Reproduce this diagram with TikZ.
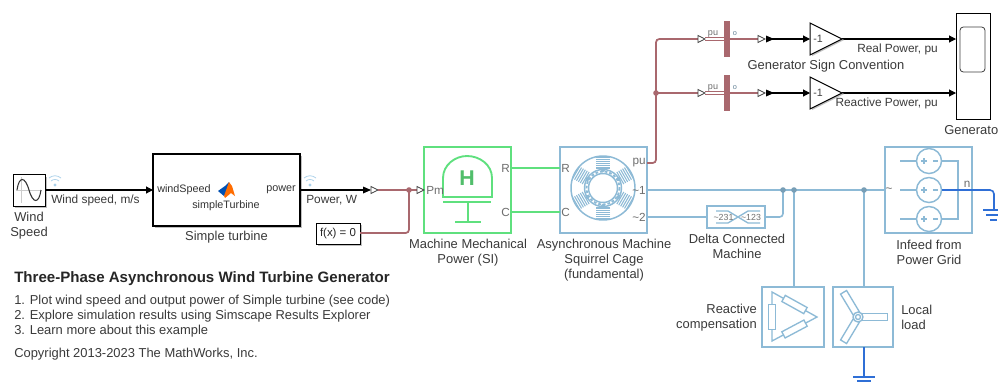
\documentclass[tikz,border=0pt]{standalone}
\usepackage{fontspec}
\setmainfont{Liberation Sans}
\usetikzlibrary{arrows.meta}
\definecolor{pblue}{HTML}{8DBAD6}
\definecolor{pgreen}{HTML}{5FE07E}
\definecolor{pred}{HTML}{A9686E}
\definecolor{dblue}{HTML}{2F6FD6}
\definecolor{txt}{HTML}{3A3A3A}
\definecolor{port}{HTML}{6E6E6E}
\definecolor{wifi}{HTML}{A9D0EA}
\tikzset{
 x=0.75pt,y=-0.75pt,
 bx/.style 2 args={minimum width=#1*0.75pt,minimum height=#2*0.75pt,inner sep=0pt,outer sep=0pt},
 lab/.style={font=\fontsize{9.7}{11.25}\selectfont,text=txt,align=center,inner sep=0pt},
 labl/.style={lab,anchor=west,align=left},
 labr/.style={lab,anchor=east,align=right},
 slab/.style={lab,font=\fontsize{8.9}{11}\selectfont},
 plab/.style={font=\fontsize{8.8}{10}\selectfont,text=port,inner sep=0pt},
 tlab/.style={plab,text=black!80,font=\fontsize{8.1}{9}\selectfont},
 blk/.style={draw=black,line width=0.75pt,fill=white},
 bluebox/.style={draw=pblue,line width=1.5pt,fill=white},
 greenbox/.style={draw=pgreen,line width=1.5pt,fill=white},
 sig/.style={draw=black,line width=0.8pt,-{Triangle[length=5.2pt,width=5.2pt]}},
 sigp/.style={draw=black,line width=0.8pt},
 pline/.style={draw=pred,line width=1.3pt,rounded corners=2.5pt},
 bline/.style={draw=pblue,line width=1.2pt,rounded corners=2.5pt},
 gline/.style={draw=pgreen,line width=1.4pt},
 eline/.style={draw=dblue,line width=1.2pt,rounded corners=3pt},
 jd/.style={circle,fill=#1,minimum size=4.2pt,inner sep=0pt,outer sep=0pt},
 hollow/.style={draw=black!75,line width=0.6pt,fill=white},
 icon/.style={draw=pblue,line width=1pt},
 res/.style={draw=pblue,fill=white,line width=1pt,bx={25}{7}},
}
\newcommand{\hollowtri}[2]{\path[hollow] (#1,#2-3.5) -- (#1+7,#2) -- (#1,#2+3.5) -- cycle;}
\newcommand{\wifisym}[2]{%
 \fill[wifi] (#1,#2) circle[radius=1.6];
 \draw[wifi,line width=0.55pt] (#1-4,#2-4) .. controls (#1-2,#2-6) and (#1+2,#2-6) .. (#1+4,#2-4);
 \draw[wifi,line width=0.55pt] (#1-6,#2-7) .. controls (#1-2,#2-10) and (#1+2,#2-10) .. (#1+6,#2-7);}
\begin{document}
\begin{tikzpicture}
\useasboundingbox[fill=white] (0,0) rectangle (998,383);
% shadows
\fill[black!25] (15,177) rectangle (47,208);
\fill[black!25] (155,156) rectangle (302,228);
\fill[black!25] (318,225) rectangle (362,246);
% blocks
\node[blk,bx={32}{32}] (wind) at (29,190) {};
\node[blk,line width=1.6pt,bx={147}{72}] (turb) at (226.5,190) {};
\node[blk,bx={44}{21}] (fx) at (338,233.5) {};
\node[greenbox,bx={87}{86}] (mech) at (467.5,190) {};
\node[bluebox,bx={87}{86}] (asyn) at (603.5,190) {};
\node[bluebox,line width=1.3pt,bx={58}{22}] (delta) at (736,217) {};
\node[bluebox,bx={87}{86}] (grid) at (928.5,190) {};
\node[bluebox,bx={62}{60}] (comp) at (793,317) {};
\node[bluebox,bx={60}{60}] (load) at (863,317) {};
\node[blk,bx={34}{106}] (scope) at (973,66) {};
\node[fill=pred,bx={6}{36}] (bus1) at (727,39) {};
\node[fill=pred,bx={6}{36}] (bus2) at (727,93) {};
% coordinates
\coordinate (pu) at (647,163);
\coordinate (a1) at (647,190);
\coordinate (a2) at (647,217);
\coordinate (j0) at (409,190);
\coordinate (pmin) at (417,190);
\coordinate (turbO) at (300,190);
\coordinate (fxo) at (360,233);
\coordinate (jr) at (656,93);
\coordinate (h1) at (698,39);
\coordinate (h2) at (698,93);
\coordinate (s1) at (767,39);
\coordinate (s2) at (767,93);
\coordinate (g1) at (810,39);
\coordinate (g2) at (810,93);
\coordinate (g1o) at (842,39);
\coordinate (g2o) at (842,93);
\coordinate (sc1) at (956,39);
\coordinate (sc2) at (956,93);
\coordinate (j1) at (783,190);
\coordinate (j2) at (794,190);
\coordinate (j3) at (864,190);
\coordinate (gin) at (885,190);
\coordinate (neu) at (942,190);
\coordinate (gnd1) at (994,210);
\coordinate (gnd2) at (864,377);
% signal connectors
\draw[sig] (wind.east |- 0,190) -- (153,190);
\draw[sigp] (turbO) -- (363,190);
\fill (363,186.5) -- (371,190) -- (363,193.5) -- cycle;
\hollowtri{371}{190}
\draw[pline] (378,190) -- (j0) -- (pmin);
\draw[pline] (fxo) -- (409,233) -- (j0);
\hollowtri{417}{190}
\draw[gline] (mech.east |- 0,168) -- (asyn.west |- 0,168);
\draw[gline] (mech.east |- 0,212) -- (asyn.west |- 0,212);
\draw[pline] (pu) -| (656,39) -- (h1);
\draw[pline] (jr) -- (h2);
\foreach \yy/\bb in {39/bus1,93/bus2}{
 \draw[draw=pred,line width=0.6pt] (705,\yy-1.6) -- (\bb.west |- 0,\yy-1.6);
 \draw[draw=pred,line width=0.6pt] (705,\yy+1.6) -- (\bb.west |- 0,\yy+1.6);
 \draw[pline,line width=0.9pt] (\bb.east |- 0,\yy) -- (758,\yy);
 \node[plab,font=\fontsize{6.8}{8}\selectfont] at (713,\yy-5.5) {pu};
 \node[plab,font=\fontsize{5.5}{7}\selectfont,text=pblue!70!black] at (735,\yy-5.5) {o};
 \hollowtri{698}{\yy}
 \hollowtri{758}{\yy}
 \fill (766,\yy-3.5) -- (774,\yy) -- (766,\yy+3.5) -- cycle;
}
\draw[sig] (s1) -- (g1);
\draw[sig] (s2) -- (g2);
\draw[sig] (g1o) -- (sc1);
\draw[sig] (g2o) -- (sc2);
\foreach \yy in {39,93}{
 \fill[black!25] (812,\yy-15) -- (844,\yy+1) -- (812,\yy+17) -- cycle;
 \draw[blk,line join=miter] (810,\yy-16) -- (842,\yy) -- (810,\yy+16) -- cycle;
 \node[plab,text=black!75,font=\fontsize{8}{9}\selectfont] at (818,\yy) {-1};
}
% scope screen
\draw[black!75,line width=0.6pt,rounded corners=2.5pt] (960,27) rectangle (985,72);
% power connectors
\draw[bline] (a1) -- (gin);
\draw[bline] (a2) -- (delta.west);
\draw[bline] (delta.east) -- (783,217) -- (j1);
\draw[bline] (j2) -- (comp.north -| j2);
\draw[bline] (j3) -- (load.north -| j3);
\node[jd=pblue!85!black] at (j1) {};
\node[jd=pblue!85!black] at (j2) {};
\node[jd=pblue!85!black] at (j3) {};
\node[jd=pred] at (j0) {};
\node[jd=pred] at (jr) {};
% grounds
\draw[eline] (neu) -- (994,190) -- (gnd1);
\draw[draw=dblue,line width=1pt] (983,210) -- (998,210) (986,215) -- (998,215) (990,220) -- (997,220);
\draw[eline] (load.south -| gnd2) -- (gnd2);
\draw[draw=dblue,line width=1pt] (853,377) -- (875,377) (857,381) -- (871,381);
% sine icon
\draw[black!20,line width=0.5pt] (16,190) -- (42,190) (21,177) -- (21,203);
\draw[black!80,line width=0.8pt] (17,190) .. controls (19,176) and (25,176) .. (29,190) .. controls (33,204) and (39,204) .. (41,190);
% wifi
\wifisym{55}{185}
\wifisym{310}{185}
% matlab logo
\fill[blue!55!cyan!70!black] (218,191) -- (225,186) -- (229,182) -- (229,188) -- (224,196) -- cycle;
\fill[orange!85!red] (229,182) -- (232,186) -- (235,196) -- (231,193) -- (225,198) -- (224,196) -- cycle;
% machine mechanical icon
\draw[pgreen,line width=1.4pt] (443,197) -- (443,178) .. controls (443,165) and (455,156) .. (467,156) .. controls (480,156) and (492,165) .. (492,178) -- (492,197) -- cycle;
\draw[pgreen,line width=1.4pt] (443,202) -- (491,202) (468,202) -- (468,222) (455,222) -- (481,222);
\node[font=\fontsize{16}{16}\bfseries\selectfont,text=pgreen!85!black,inner sep=0pt] at (467,178) {H};
% asynchronous machine icon
\draw[icon,line width=1.1pt] (603,188) circle[radius=32];
\draw[icon,line width=1.1pt] (603,188) circle[radius=18.5];
\draw[icon,line width=1.1pt] (603,188) circle[radius=14.5];
\draw[icon,line width=1.4pt,dash pattern=on 2pt off 1.5pt] (603,188) circle[radius=16.5];
\foreach \aa in {90,150,210,270,330,30}{
 \foreach \rr in {20,22.2,24.4,26.6,28.8,31}{
  \draw[icon,line width=0.8pt] ({603+\rr*cos(\aa)-7*sin(\aa)},{188-\rr*sin(\aa)-7*cos(\aa)}) -- ({603+\rr*cos(\aa)+7*sin(\aa)},{188-\rr*sin(\aa)+7*cos(\aa)});
 }
 \fill[pblue] ({603+18*cos(\aa)},{188-18*sin(\aa)}) circle[radius=2];
}
% delta connected icon
\draw[icon] (716,211) -- (728,211) -- (748,223) -- (760,223);
\draw[icon] (716,223) -- (728,223) -- (748,211) -- (760,211);
\node[plab,font=\fontsize{6.6}{8}\selectfont] at (723.5,217) {\textasciitilde 231};
\node[plab,font=\fontsize{6.6}{8}\selectfont] at (751,217) {\textasciitilde 123};
% infeed icon
\foreach \yy in {161,190,219}{
 \draw[icon,line width=1.1pt,fill=white] (929,\yy) circle[radius=12.5];
 \draw[icon] (900,\yy) -- (916.5,\yy);
 \draw[icon] (921,\yy) -- (927,\yy) (924,\yy-3) -- (924,\yy+3) (933,\yy) -- (938,\yy);
}
\draw[icon] (941.5,161) -- (958,161) -- (958,219) -- (941.5,219);
\draw[eline] (neu) -- (960,190);
\node[plab] at (967,184) {n};
\node[plab] at (889,190) {\textasciitilde};
% reactive comp icon
\draw[icon] (772,292) -- (817,317) -- (772,341) -- cycle;
\node[res,rotate=-90] at (772,317) {};
\node[res,rotate=-29] at (794.5,304.5) {};
\node[res,rotate=28] at (794.5,329) {};
% local load icon
\coordinate (st) at (858,317);
\draw[icon] (st) -- (887,317) (st) -- (843,292) (st) -- (843,341);
\node[res] at (875,317) {};
\node[res,rotate=-59] at (850,303) {};
\node[res,rotate=59] at (850,331) {};
\draw[icon,fill=white] (st) circle[radius=5];
\draw[icon] (st) circle[radius=2.5];
% port labels
\node[plab,anchor=west] at (426,190) {Pm};
\node[plab,anchor=east] at (510,168) {R};
\node[plab,anchor=east] at (510,212) {C};
\node[plab,anchor=west] at (561,168) {R};
\node[plab,anchor=west] at (561,212) {C};
\node[plab,anchor=east] at (646,163) {pu};
\node[plab,anchor=east] at (646,190) {\textasciitilde 1};
\node[plab,anchor=east] at (646,217) {\textasciitilde 2};
\node[tlab,anchor=west] at (157,190) {windSpeed};
\node[tlab,anchor=east] at (296,190) {power};
\node[tlab] at (226,206) {simpleTurbine};
\node[lab,text=black!85,font=\fontsize{8.6}{10}\selectfont] at (338,233.5) {f(x) = 0};
% labels
\node[lab] at (29,225.5) {Wind\\Speed};
\node[slab,anchor=west] at (51,200) {Wind speed, m/s};
\node[lab] at (226.5,237) {Simple turbine};
\node[slab,anchor=west] at (306,200) {Power, W};
\node[lab] at (468,252.5) {Machine Mechanical\\Power (SI)};
\node[lab] at (604,260) {Asynchronous Machine\\Squirrel Cage\\(fundamental)};
\node[lab] at (737,246.5) {Delta Connected\\Machine};
\node[lab] at (929,252) {Infeed from\\Power Grid};
\node[labr] at (757,317.5) {Reactive\\compensation};
\node[labl] at (901,317.5) {Local\\load};
\node[slab,anchor=east] at (938,49) {Real Power, pu};
\node[slab,anchor=east] at (938,103) {Reactive Power, pu};
\node[lab] at (826,66) {Generator Sign Convention};
\node[lab,anchor=west] at (944,130) {Generato};
% notes
\node[anchor=west,inner sep=0pt,font=\fontsize{11.3}{13}\bfseries\selectfont,text=black!85] at (14,279) {Three-Phase Asynchronous Wind Turbine Generator};
\node[labl] at (14,301.5) {1. Plot wind speed and output power of Simple turbine (see code)};
\node[labl] at (14,316.5) {2. Explore simulation results using Simscape Results Explorer};
\node[labl] at (14,331.5) {3. Learn more about this example};
\node[labl] at (14,354) {Copyright 2013-2023 The MathWorks, Inc.};
\end{tikzpicture}
\end{document}
